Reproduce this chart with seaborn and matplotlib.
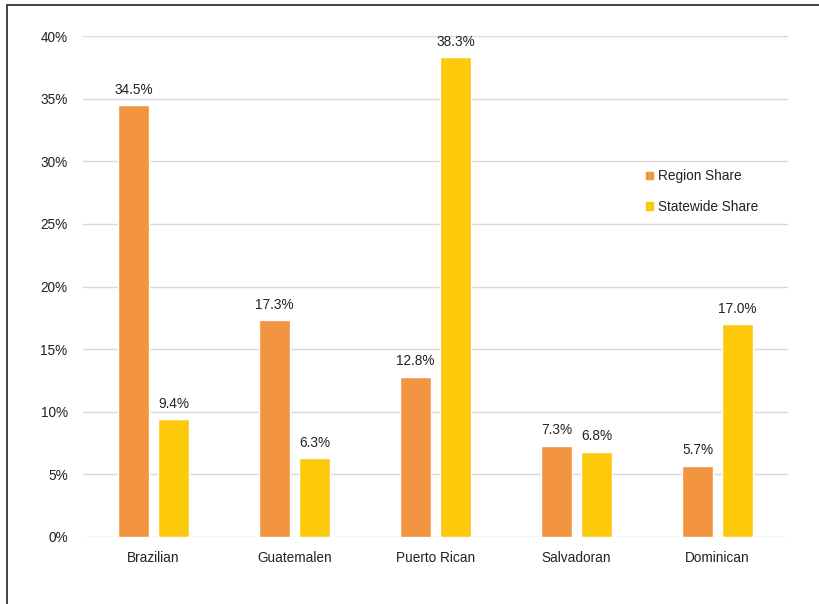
import matplotlib
matplotlib.use("Agg")
import matplotlib.pyplot as plt
import matplotlib.patches as mpatches
import seaborn as sns
import pandas as pd

groups = ["Brazilian", "Guatemalen", "Puerto Rican", "Salvadoran", "Dominican"]
region_share = [34.5, 17.3, 12.8, 7.3, 5.7]
statewide_share = [9.4, 6.3, 38.3, 6.8, 17.0]
series = ["Region Share", "Statewide Share"]
colors = ["#F39441", "#FCCA0B"]

df = pd.DataFrame({
    "Group": groups * 2,
    "Series": [series[0]] * len(groups) + [series[1]] * len(groups),
    "Share": region_share + statewide_share,
})

sns.set_style("white")
plt.rcParams["font.family"] = ["Liberation Sans", "DejaVu Sans"]
fs = 9.8

fig = plt.figure(figsize=(8.2, 6.04), dpi=100)
ax = fig.add_axes([83 / 820, 1 - 537 / 604, 705 / 820, 501 / 604])

sns.barplot(data=df, x="Group", y="Share", hue="Series", palette=colors,
            width=0.567, gap=0.21, ax=ax, legend=True, saturation=1)

# value labels above each bar
for cont in ax.containers:
    ax.bar_label(cont, fmt="%.1f%%", padding=6, fontsize=fs, color="#222222")

ax.set_ylim(0, 40)
ax.set_xlim(-0.5, 4.5)
ax.set_yticks(range(0, 41, 5))
ax.set_yticklabels([f"{v}%" for v in range(0, 41, 5)])
ax.yaxis.grid(True, color="#D9D9D9", linewidth=1)
ax.set_axisbelow(True)
for s in ax.spines.values():
    s.set_visible(False)
ax.tick_params(axis="both", length=0, labelsize=fs, colors="#222222")
ax.tick_params(axis="y", pad=11)
ax.tick_params(axis="x", pad=10)
ax.set_xlabel("")
ax.set_ylabel("")

handles = [mpatches.Patch(color=c) for c in colors]
ax.legend(handles, series, loc="upper left", bbox_to_anchor=(634 / 820, 1 - 157 / 604),
          bbox_transform=fig.transFigure, frameon=False, fontsize=fs,
          handlelength=0.5, handleheight=0.5, handletextpad=0.35, labelspacing=1.2,
          labelcolor="#222222")

# outer frame (right and bottom edges fall outside the image)
fig.patches.append(mpatches.Rectangle((7 / 820, -0.05), 1.1, 1 - 5 / 604 + 0.05,
                                      transform=fig.transFigure, fill=False,
                                      edgecolor="#222222", linewidth=1.2))

fig.savefig("out.png", dpi=100)
